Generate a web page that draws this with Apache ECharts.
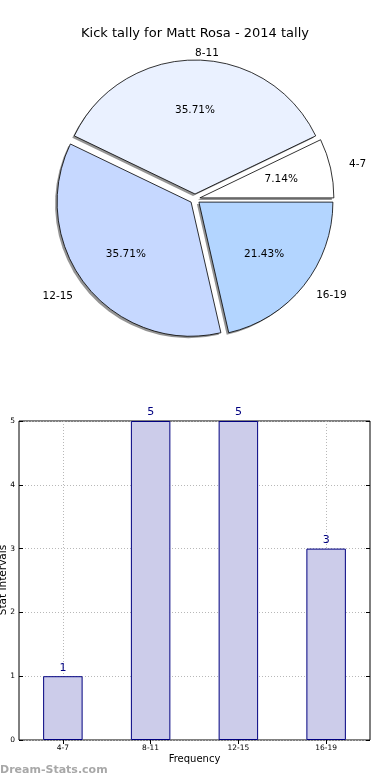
<!DOCTYPE html>
<html>
<head>
<meta charset="utf-8">
<script src="https://cdn.jsdelivr.net/npm/echarts@6/dist/echarts.min.js"></script>
<style>
html,body{margin:0;padding:0;background:#fff;}
#c{width:390px;height:780px;}
</style>
</head>
<body>
<div id="c"></div>
<script>
const categories = ['4-7', '8-11', '12-15', '16-19'];
const kicks = [1, 5, 5, 3];
const yTickValues = [0, 1, 2, 3, 4, 5];

const pieColors = ['#ffffff', '#eaf1ff', '#c6d8ff', '#b3d5ff'];
const labelLens = [19, 7, 17, 16];
const FONT = 'DejaVu Sans';
const R = 134;
const CX = 195, CY = 199;
const total = kicks.reduce((a, b) => a + b, 0);

const pieMain = categories.map((c, i) => ({
  name: c, value: kicks[i], selected: true,
  itemStyle: { color: pieColors[i] },
  labelLine: { length: labelLens[i], length2: 0 }
}));
const pieShadow = categories.map((c, i) => ({ name: c, value: kicks[i], selected: true }));
const pieLabels = categories.map((c, i) => ({ name: c, value: kicks[i], selected: true }));

const chart = echarts.init(document.getElementById('c'), null, { renderer: 'canvas' });
chart.setOption({
  animation: false,
  backgroundColor: '#fff',
  textStyle: { fontFamily: FONT },
  title: {
    text: 'Kick tally for Matt Rosa - 2014 tally',
    left: 'center', top: 22,
    textStyle: { fontFamily: FONT, fontSize: 13, fontWeight: 'normal', color: '#000' }
  },
  graphic: [{
    type: 'text', left: 0, top: 765,
    style: { text: 'Dream-Stats.com', fill: '#a8a8a8', font: 'bold 11px "DejaVu Sans"' }
  }, {
    type: 'text', x: 9, y: 580, rotation: Math.PI / 2,
    style: {
      text: 'Stat Intervals', fill: '#000', font: '10.5px "DejaVu Sans"',
      align: 'center', verticalAlign: 'bottom'
    }
  }],
  grid: {
    left: 19, right: 20, top: 421, bottom: 40,
    containLabel: false, outerBoundsMode: 'none',
    show: true, borderColor: '#000', borderWidth: 1, backgroundColor: 'transparent'
  },
  xAxis: [{
    type: 'category', data: categories, position: 'bottom',
    name: 'Frequency', nameLocation: 'middle', nameGap: 14,
    nameTextStyle: { fontFamily: FONT, fontSize: 10, color: '#000' },
    axisLine: { show: false },
    axisTick: { show: true, inside: true, alignWithLabel: true, length: 4, lineStyle: { color: '#000' } },
    axisLabel: { fontFamily: FONT, fontSize: 7.5, color: '#000', margin: 4 },
    splitLine: { show: true, alignWithLabel: true, lineStyle: { color: '#b8b8b8', type: [1, 2], width: 1 } }
  }, {
    type: 'category', data: categories, position: 'top',
    axisLine: { show: false },
    axisTick: { show: true, inside: true, alignWithLabel: true, length: 4, lineStyle: { color: '#000' } },
    axisLabel: { show: false }, splitLine: { show: false }
  }],
  yAxis: [{
    type: 'value', min: 0, max: 5, interval: 1, position: 'left',
    axisLine: { show: false },
    axisTick: { show: true, inside: true, length: 4, lineStyle: { color: '#000' } },
    axisLabel: { fontFamily: FONT, fontSize: 7.5, color: '#000', margin: 4 },
    splitLine: { show: true, lineStyle: { color: '#b8b8b8', type: [1, 2], width: 1 } }
  }, {
    type: 'value', min: 0, max: 5, interval: 1, position: 'right',
    axisLine: { show: false },
    axisTick: { show: true, inside: true, length: 4, lineStyle: { color: '#000' } },
    axisLabel: { show: false }, splitLine: { show: false }
  }],
  series: [{
    type: 'bar', data: kicks, xAxisIndex: 0, yAxisIndex: 0,
    barWidth: '45%',
    itemStyle: { color: '#ccccea', borderColor: '#000080', borderWidth: 1 },
    label: { show: true, position: 'top', distance: 3, color: '#000080', fontFamily: FONT, fontSize: 11 },
    silent: true
  }, {
    type: 'pie', center: [CX - 2, CY + 2], radius: [0, R],
    startAngle: 0, clockwise: false,
    selectedMode: 'multiple', selectedOffset: 5,
    avoidLabelOverlap: false, silent: true,
    data: pieShadow,
    itemStyle: { color: 'rgba(60,60,60,0.55)', borderWidth: 0 },
    label: { show: false }, labelLine: { show: false },
    emphasis: { disabled: true }
  }, {
    type: 'pie', center: [CX, CY], radius: [0, R],
    startAngle: 0, clockwise: false,
    selectedMode: 'multiple', selectedOffset: 5,
    avoidLabelOverlap: false, silent: true,
    data: pieMain,
    itemStyle: { borderColor: '#000', borderWidth: 0.8 },
    label: {
      show: true, position: 'outside', formatter: '{b}',
      fontFamily: FONT, fontSize: 10.5, color: '#000', distanceToLabelLine: 0
    },
    labelLine: { show: false },
    emphasis: { disabled: true }
  }, {
    type: 'pie', center: [CX, CY], radius: [0, 1.2 * R],
    startAngle: 0, clockwise: false,
    selectedMode: 'multiple', selectedOffset: 5,
    avoidLabelOverlap: false, silent: true,
    data: pieLabels,
    itemStyle: { color: 'rgba(0,0,0,0)', borderWidth: 0 },
    label: {
      show: true, position: 'inside',
      formatter: p => (p.value / total * 100).toFixed(2) + '%',
      fontFamily: FONT, fontSize: 10.5, color: '#000'
    },
    labelLine: { show: false },
    emphasis: { disabled: true }
  }]
});
</script>
</body>
</html>
